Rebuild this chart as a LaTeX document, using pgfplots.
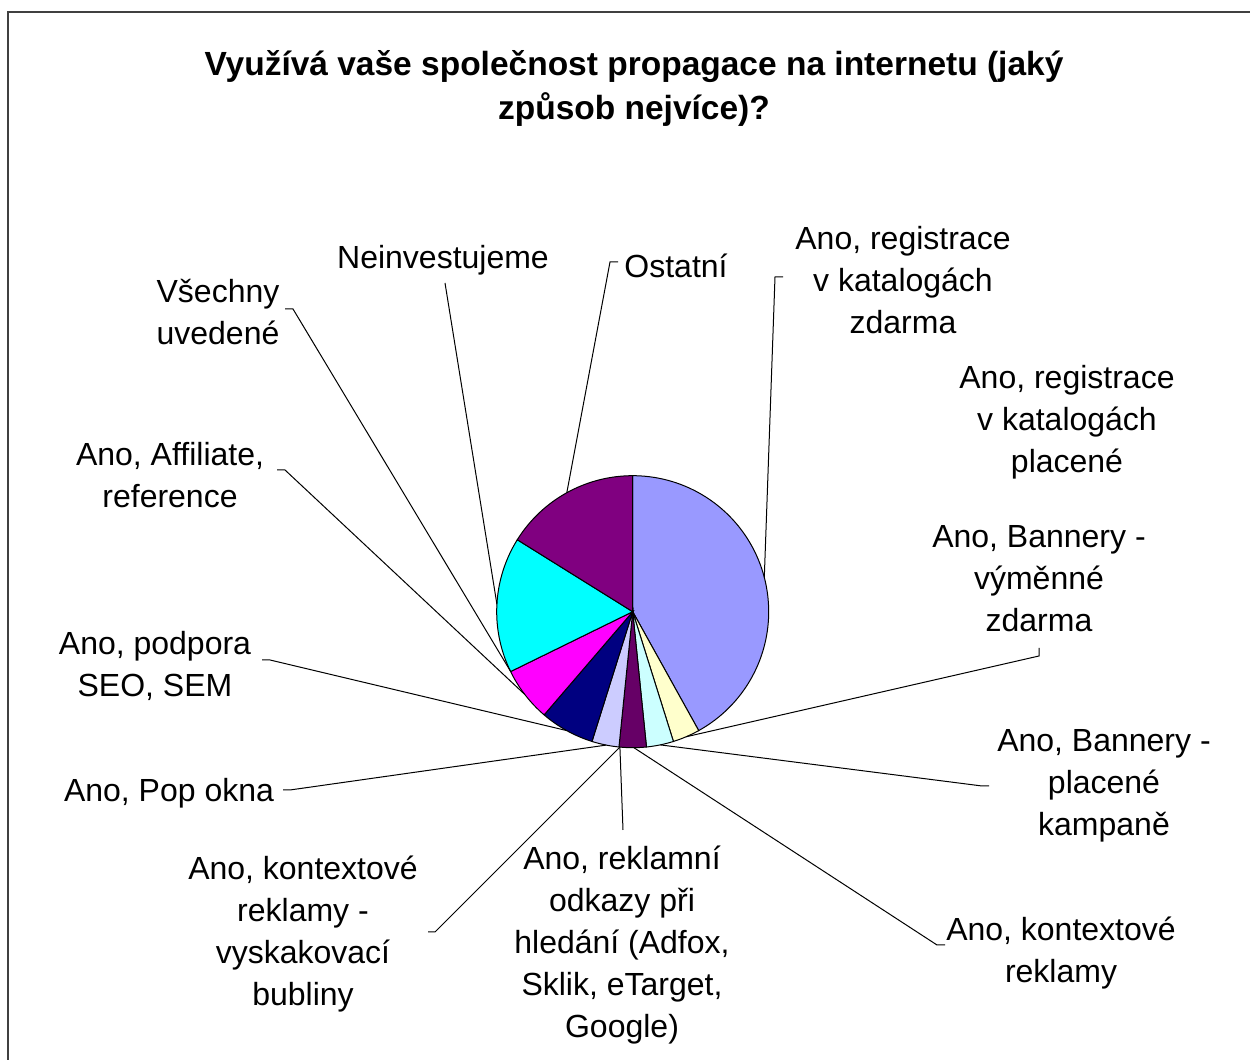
\documentclass[border=0pt]{standalone}
\usepackage{pgfplots}
\pgfplotsset{compat=1.18}
\usepackage{fontspec}
\setmainfont{Liberation Sans}
\definecolor{s1}{HTML}{9999FF}
\definecolor{s2}{HTML}{993366}
\definecolor{s3}{HTML}{FFFFCC}
\definecolor{s4}{HTML}{CCFFFF}
\definecolor{s5}{HTML}{660066}
\definecolor{s6}{HTML}{FF8080}
\definecolor{s7}{HTML}{0066CC}
\definecolor{s8}{HTML}{CCCCFF}
\definecolor{s9}{HTML}{000080}
\definecolor{s10}{HTML}{FF00FF}
\definecolor{s11}{HTML}{FFFF00}
\definecolor{s12}{HTML}{00FFFF}
\definecolor{s13}{HTML}{800080}
\newcommand{\lab}{\fontsize{19.2}{25.2}\selectfont}
\begin{document}
\begin{tikzpicture}
\begin{axis}[
  scale only axis, width=750pt, height=636pt,
  xmin=0, xmax=1250, ymin=0, ymax=1060,
  hide axis, clip=false,
]
% pie: counts (total 31), clockwise from top
\def\cumangle{90}
\pgfplotsforeachungrouped \val/\col in {13/s1,0/s2,1/s3,1/s4,1/s5,0/s6,0/s7,1/s8,2/s9,2/s10,0/s11,5/s12,5/s13}{
  \pgfmathsetmacro\endang{\cumangle-\val*360/31}
  \ifnum\val>0
    \edef\temp{\noexpand\addplot[draw=black, line width=0.6pt, fill=\col, domain=\endang:\cumangle, samples=90] ({632.7+136*cos(x)}, {448.3+136*sin(x)}) -- (axis cs:632.7,448.3) -- cycle;}
    \temp
  \fi
  \let\cumangle\endang
}
% leader lines
\draw[line width=0.6pt] (axis cs:764.3,482.6) -- (axis cs:775,783) -- (axis cs:783,783);
\draw[line width=0.6pt] (axis cs:686,323.2) -- (axis cs:1039,404) -- (axis cs:1039,412);
\draw[line width=0.6pt] (axis cs:660.3,315.1) -- (axis cs:982,274) -- (axis cs:989,274);
\draw[line width=0.6pt] (axis cs:633.9,312.3) -- (axis cs:937,115) -- (axis cs:945,115);
\draw[line width=0.6pt] (axis cs:619.9,312.9) -- (axis cs:623,230);
\draw[line width=0.6pt] (axis cs:619.9,312.9) -- (axis cs:435,128) -- (axis cs:428,128);
\draw[line width=0.6pt] (axis cs:606.3,314.9) -- (axis cs:290,270) -- (axis cs:283,270);
\draw[line width=0.6pt] (axis cs:566.8,329.4) -- (axis cs:270,400) -- (axis cs:262,400);
\draw[line width=0.6pt] (axis cs:524.6,365.7) -- (axis cs:285,590) -- (axis cs:277,590);
\draw[line width=0.6pt] (axis cs:510.3,389.1) -- (axis cs:293,751) -- (axis cs:285,751);
\draw[line width=0.6pt] (axis cs:496.9,455.8) -- (axis cs:445,777);
\draw[line width=0.6pt] (axis cs:566.8,567.2) -- (axis cs:610,798) -- (axis cs:618,798);
% labels
\node[align=center, font=\lab] at (axis cs:903,780) {Ano, registrace\\v katalogách\\zdarma};
\node[align=center, font=\lab] at (axis cs:1067,638) {Ano, registrace\\v katalogách\\placené};
\node[align=center, font=\lab] at (axis cs:1039,481) {Ano, Bannery -\\výměnné\\zdarma};
\node[align=center, font=\lab] at (axis cs:1104,274) {Ano, Bannery -\\placené\\kampaně};
\node[align=center, font=\lab] at (axis cs:1061,107) {Ano, kontextové\\reklamy};
\node[align=center, font=\lab] at (axis cs:622,115) {Ano, reklamní\\odkazy při\\hledání (Adfox,\\Sklik, eTarget,\\Google)};
\node[align=center, font=\lab] at (axis cs:303,125.5) {Ano, kontextové\\reklamy -\\vyskakovací\\bubliny};
\node[align=center, font=\lab] at (axis cs:169,267) {Ano, Pop okna};
\node[align=center, font=\lab] at (axis cs:155,394.5) {Ano, podpora\\SEO, SEM};
\node[align=center, font=\lab] at (axis cs:170,584.5) {Ano, Affiliate,\\reference};
\node[align=center, font=\lab] at (axis cs:218,747.5) {Všechny\\uvedené};
\node[align=center, font=\lab] at (axis cs:443,800) {Neinvestujeme};
\node[align=center, font=\lab] at (axis cs:676,794) {Ostatní};
% title
\node[align=center, font=\fontsize{20.1}{26.4}\selectfont\bfseries] at (axis cs:634,972) {Využívá vaše společnost propagace na internetu (jaký\\způsob nejvíce)?};
% frame
\draw[line width=1.2pt, black!75] (axis cs:8,0) -- (axis cs:8,1048) -- (axis cs:1250,1048);
\end{axis}
\pgfresetboundingbox
\path (0pt,0pt) rectangle (750pt,636pt);
\end{tikzpicture}
\end{document}
